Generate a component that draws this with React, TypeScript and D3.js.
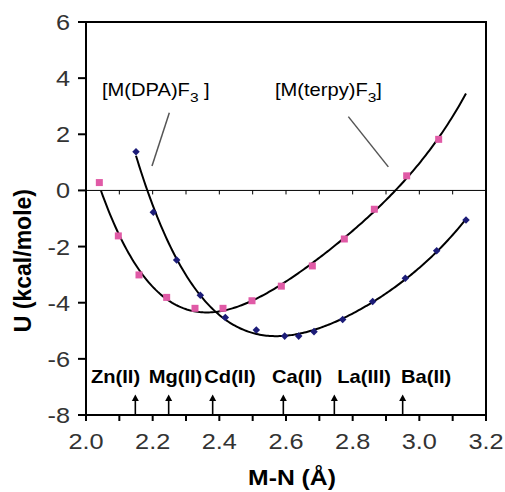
import React from "react";
import * as d3 from "d3";

// ---- data ----
const terpyX = [2.04, 2.097, 2.159, 2.242, 2.327, 2.411, 2.498, 2.586, 2.679, 2.775, 2.865, 2.962, 3.058];
const terpyY = [0.28, -1.62, -3.01, -3.81, -4.2, -4.2, -3.93, -3.41, -2.69, -1.73, -0.67, 0.52, 1.82];
const dpaX = [2.15, 2.202, 2.272, 2.343, 2.418, 2.511, 2.596, 2.638, 2.684, 2.77, 2.86, 2.958, 3.052, 3.14];
const dpaY = [1.38, -0.78, -2.48, -3.73, -4.53, -4.97, -5.19, -5.19, -5.03, -4.6, -3.96, -3.13, -2.15, -1.05];
const terpyFitRange = [2.045, 3.14];
const dpaFitRange = [2.15, 3.14];

const metals = ["Zn(II)", "Mg(II)", "Cd(II)", "Ca(II)", "La(III)", "Ba(II)"];
const metalX = [2.148, 2.248, 2.38, 2.592, 2.745, 2.95];
const metalLabelX = [2.015, 2.188, 2.355, 2.558, 2.754, 2.945];

const yTicks = [-8, -6, -4, -2, 0, 2, 4, 6];
const xMinorTicks = d3.range(0, 13).map((i) => +(2 + i * 0.1).toFixed(1));
const xLabelTicks = [2.0, 2.2, 2.4, 2.6, 2.8, 3.0, 3.2];

const W = 505;
const H = 492;
const ST = 1.15; // horizontal stretch of the reference's lettering
const FONT = "'Liberation Sans', Arial, Helvetica, sans-serif";

function polyFit(xs: number[], ys: number[], deg: number, c: number) {
  const n = deg + 1;
  const A: number[][] = Array.from({ length: n }, () => new Array(n + 1).fill(0));
  xs.forEach((x0, k) => {
    const x = x0 - c;
    for (let i = 0; i < n; i++) {
      for (let j = 0; j < n; j++) A[i][j] += Math.pow(x, i + j);
      A[i][n] += ys[k] * Math.pow(x, i);
    }
  });
  for (let i = 0; i < n; i++) {
    let p = i;
    for (let r = i + 1; r < n; r++) if (Math.abs(A[r][i]) > Math.abs(A[p][i])) p = r;
    [A[i], A[p]] = [A[p], A[i]];
    for (let r = 0; r < n; r++) {
      if (r === i) continue;
      const f = A[r][i] / A[i][i];
      for (let j = i; j <= n; j++) A[r][j] -= f * A[i][j];
    }
  }
  const coef = A.map((row, i) => row[n] / row[i]);
  return (x: number) => coef.reduce((s, a, i) => s + a * Math.pow(x - c, i), 0);
}

function SText(props: {
  x: number; y: number; size: number; anchor?: string; weight?: string; fill?: string; children: React.ReactNode;
}) {
  const { x, y, size, anchor = "start", weight = "normal", fill = "#000", children } = props;
  return (
    <text
      transform={`translate(${x},${y}) scale(${ST},1)`}
      textAnchor={anchor}
      fontSize={size}
      fontWeight={weight}
      fontFamily={FONT}
      fill={fill}
    >
      {children}
    </text>
  );
}

export default function App() {
  const x = d3.scaleLinear().domain([2.0, 3.2]).range([86, 486]);
  const y = d3.scaleLinear().domain([-8, 6]).range([415, 22]);

  const terpyFit = polyFit(terpyX, terpyY, 4, 2.6);
  const dpaFit = polyFit(dpaX, dpaY, 4, 2.6);
  const sample = (r: number[]) => d3.range(0, 201).map((i) => r[0] + ((r[1] - r[0]) * i) / 200);
  const line = d3.line<number[]>().x((d) => x(d[0])).y((d) => y(d[1]));
  const terpyPath = line(sample(terpyFitRange).map((v) => [v, terpyFit(v)])) || "";
  const dpaPath = line(sample(dpaFitRange).map((v) => [v, dpaFit(v)])) || "";

  const diamond = d3.symbol().type(d3.symbolDiamond2).size(36)() || "";

  return (
    <svg width={W} height={H} style={{ position: "absolute", left: 0, top: 0, background: "#fff" }}>
      {/* zero line with minor ticks */}
      <line x1={x(2.0)} x2={x(3.2)} y1={y(0)} y2={y(0)} stroke="#000" strokeWidth={1} />
      {xMinorTicks.slice(1, -1).map((t) => (
        <line key={"z" + t} x1={x(t)} x2={x(t)} y1={y(0)} y2={y(0) + 4} stroke="#000" strokeWidth={1} />
      ))}

      {/* fitted curves */}
      <path d={terpyPath} fill="none" stroke="#000" strokeWidth={2} />
      <path d={dpaPath} fill="none" stroke="#000" strokeWidth={2} />

      {/* points */}
      {terpyX.map((v, i) => (
        <rect key={"t" + i} x={x(v) - 3.5} y={y(terpyY[i]) - 3.5} width={7} height={7} fill="#e05aa6" />
      ))}
      {dpaX.map((v, i) => (
        <path key={"d" + i} d={diamond} transform={`translate(${x(v)},${y(dpaY[i])})`} fill="#1c1c78" />
      ))}

      {/* leader lines */}
      <line x1={x(2.25)} y1={y(2.77)} x2={x(2.198)} y2={y(0.87)} stroke="#555" strokeWidth={1.5} />
      <line x1={x(2.787)} y1={y(2.63)} x2={x(2.907)} y2={y(0.84)} stroke="#555" strokeWidth={1.5} />

      {/* compound labels */}
      <SText x={x(2.048)} y={y(3.36)} size={17.5}>
        [M(DPA)F<tspan fontSize={13.5} dy={6}>3</tspan>
        <tspan dy={-6}> ]</tspan>
      </SText>
      <SText x={x(2.567)} y={y(3.36)} size={17.5}>
        [M(terpy)F<tspan fontSize={13.5} dy={6}>3</tspan>
        <tspan dy={-6}>]</tspan>
      </SText>

      {/* metal labels and arrows */}
      {metals.map((m, i) => (
        <g key={m}>
          <SText x={x(metalLabelX[i])} y={y(-6.86)} size={17.5} weight="bold">
            {m}
          </SText>
          <line x1={x(metalX[i])} x2={x(metalX[i])} y1={y(-8)} y2={y(-7.45)} stroke="#000" strokeWidth={1.6} />
          <path
            d={`M${x(metalX[i])},${y(-7.27)} l-3.5,6.5 l7,0 z`}
            fill="#000"
          />
        </g>
      ))}

      {/* frame */}
      <rect x={x(2.0)} y={y(6)} width={x(3.2) - x(2.0)} height={y(-8) - y(6)} fill="none" stroke="#000" strokeWidth={2} />

      {/* y axis ticks */}
      {yTicks.map((t) => (
        <g key={"y" + t}>
          <line x1={x(2.0) - 8} x2={x(2.0)} y1={y(t)} y2={y(t)} stroke="#000" strokeWidth={2} />
          <SText x={x(2.0) - 16} y={y(t) + 8} size={22} anchor="end" fill="#333">
            {String(t)}
          </SText>
        </g>
      ))}

      {/* x axis ticks */}
      {xMinorTicks.map((t) => (
        <line key={"x" + t} x1={x(t)} x2={x(t)} y1={y(-8)} y2={y(-8) + 6} stroke="#000" strokeWidth={2} />
      ))}
      {xLabelTicks.map((t) => (
        <SText key={"xl" + t} x={x(t)} y={y(-8) + 34} size={22} anchor="middle" fill="#333">
          {t.toFixed(1)}
        </SText>
      ))}

      {/* axis titles */}
      <SText x={292} y={485} size={21.5} anchor="middle" weight="bold">
        M-N (Å)
      </SText>
      <text
        transform={`translate(31,${y(-2.5)}) rotate(-90)`}
        textAnchor="middle"
        fontSize={23}
        fontWeight="bold"
        fontFamily={FONT}
        fill="#000"
      >
        U (kcal/mole)
      </text>
    </svg>
  );
}
